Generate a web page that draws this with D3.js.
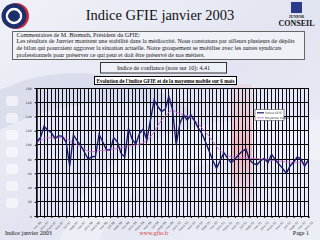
<!DOCTYPE html>
<html><head><meta charset="utf-8">
<script src="https://cdn.jsdelivr.net/npm/d3@7"></script>
<style>html,body{margin:0;padding:0;background:#fff;}svg{display:block;}</style>
</head><body>
<svg id="c" width="320" height="240"></svg>
<script>
const monthNames = ["janv","févr","mars","avr","mai","juin","juil","août","sept","oct","nov","déc"];
const startMonth = 10, startYear = 1996; // nov-96
const indiceGFIE = [104,110,126,121,117,109,113,112,104,70,114,106,99,90,80,83,84,115,104,93,
  93,110,104,88,83,123,108,101,116,122,107,135,163,154,147,150,168,150,100,130,
  142,135,142,134,124,116,104,91,78,67,78,89,81,75,80,86,91,94,79,74,
  72,78,81,75,87,79,73,67,60,70,76,83,80,70,79];
const moyenneMobile = [104,106,109,110,110,110,111,110,109,106,104,100,97,94,91,90,91,92,92,92,
  93,94,95,96,97,98,99,100,101,103,106,111,118,127,135,140,146,149,146,144,
  143,141,138,134,130,124,118,112,105,98,92,88,85,83,82,82,82,82,81,81,
  81,80,79,79,78,78,77,77,76,76,75,75,75,74,74];
const categories = indiceGFIE.map((d,i)=>{const m=(startMonth+i)%12, y=startYear+Math.floor((startMonth+i)/12);return monthNames[m]+"-"+String(y).slice(2);});
const yTicks = [0,20,40,60,80,100,120,140,160,180];
const commentLines = [
 "Commentaires de M. Bismuth, Président du GFIE:",
 "Les résultats de Janvier montrent une stabilité dans la médiocrité. Nous constatons par ailleurs plusieurs de dépôts",
 "de bilan qui pourraient aggraver la situation actuelle. Notre groupement   se mobilise avec les autres syndicats",
 "professionnels pour préserver ce qui peut et doit être préservé de nos métiers."];

const svg = d3.select("#c");
const serif = "'Liberation Serif','DejaVu Serif',serif";
// background
const defs = svg.append("defs");
const bg = defs.append("linearGradient").attr("id","bg").attr("x1",0).attr("y1",0).attr("x2",1).attr("y2",1);
bg.append("stop").attr("offset","0").attr("stop-color","#f0f1f8");
bg.append("stop").attr("offset","0.5").attr("stop-color","#e2e5f1");
bg.append("stop").attr("offset","1").attr("stop-color","#eceef6");
svg.append("rect").attr("width",320).attr("height",240).attr("fill","url(#bg)");
const band = defs.append("linearGradient").attr("id","band").attr("x1",0).attr("y1",0).attr("x2",0).attr("y2",1);
band.append("stop").attr("offset","0").attr("stop-color","#f2b0b0").attr("stop-opacity",0.2);
band.append("stop").attr("offset","0.5").attr("stop-color","#f2a8a8").attr("stop-opacity",0.8);
band.append("stop").attr("offset","1").attr("stop-color","#f2b0b0").attr("stop-opacity",0.1);
// decorative shapes
svg.append("path").attr("d","M60,240 C90,150 180,110 320,120 L320,160 C200,150 120,180 100,240 Z").attr("fill","#ffffff").attr("opacity",0.35);
svg.append("path").attr("d","M0,90 C60,60 150,70 200,120 C150,95 70,95 0,130 Z").attr("fill","#c8cce2").attr("opacity",0.45);
for(let k=0;k<7;k++) svg.append("rect").attr("x",6).attr("y",96+k*17).attr("width",12).attr("height",10).attr("rx",3).attr("fill","#ffffff").attr("opacity",0.55);
svg.append("rect").attr("x",232).attr("y",84).attr("width",20).attr("height",130).attr("fill","url(#band)");

// logo left
const lg = svg.append("g");
lg.append("circle").attr("cx",16).attr("cy",16).attr("r",13).attr("fill","#c8283a");
lg.append("circle").attr("cx",14).attr("cy",16).attr("r",12.5).attr("fill","#1e2f6e");
lg.append("circle").attr("cx",14).attr("cy",16).attr("r",7).attr("fill","none").attr("stroke","#fff").attr("stroke-width",2.5);
lg.append("text").attr("x",14).attr("y",18).attr("text-anchor","middle").attr("font-family","DejaVu Sans").attr("font-weight","bold").attr("font-size",5).attr("fill","#1e2f6e").text("GFIE");

// title
svg.append("text").attr("x",160).attr("y",20).attr("text-anchor","middle").attr("font-family",serif).attr("font-size",14.5).attr("fill","#111").text("Indice GFIE janvier 2003");

// junior conseil
svg.append("rect").attr("x",291).attr("y",2).attr("width",11).attr("height",11).attr("fill","#2a3a8a");
svg.append("text").attr("x",296.5).attr("y",17.5).attr("text-anchor","middle").attr("font-family",serif).attr("font-weight","bold").attr("font-size",4).attr("fill","#111").text("JUNIOR");
svg.append("text").attr("x",296.5).attr("y",26).attr("text-anchor","middle").attr("font-family",serif).attr("font-weight","bold").attr("font-size",8).attr("fill","#111").text("CONSEIL");

// comment box
svg.append("rect").attr("x",12.5).attr("y",31.5).attr("width",292).attr("height",28).attr("fill","#f4f5fa").attr("fill-opacity",0.7).attr("stroke","#666").attr("stroke-width",1);
commentLines.forEach((t,i)=>svg.append("text").attr("x",16.5).attr("y",36.5+i*6.7).attr("font-family",serif).attr("font-size",6.1).attr("fill","#111").text(t));

// indice de confiance
svg.append("rect").attr("x",100.5).attr("y",62.5).attr("width",126).attr("height",10.5).attr("fill","#eef0f8").attr("stroke","#333").attr("stroke-width",1);
svg.append("text").attr("x",163.5).attr("y",70).attr("text-anchor","middle").attr("font-family",serif).attr("font-size",6).attr("fill","#111").text("Indice de confiance (note sur 10): 4,41");

// chart title
svg.append("rect").attr("x",94.5).attr("y",76.5).attr("width",142).attr("height",8).attr("fill","#fff").attr("stroke","#000").attr("stroke-width",1);
svg.append("text").attr("x",165.5).attr("y",82.6).attr("text-anchor","middle").attr("font-family",serif).attr("font-weight","bold").attr("font-size",5.2).attr("fill","#000").text("Evolution de l'indice GFIE et de la moyenne mobile sur 6 mois");

// scales
const x = d3.scalePoint().domain(d3.range(indiceGFIE.length)).range([36.7,308.3]);
const y = d3.scaleLinear().domain([0,180]).range([216,88]);
const plot = svg.append("g").attr("shape-rendering","crispEdges");
// vertical grid
plot.selectAll("line.v").data(x.domain()).join("line").attr("class","v")
  .attr("x1",d=>x(d)).attr("x2",d=>x(d)).attr("y1",y(180)).attr("y2",y(0)).attr("stroke","#0a0a20").attr("stroke-width",1);
plot.selectAll("line.h").data(yTicks).join("line").attr("class","h")
  .attr("x1",x(0)).attr("x2",x(indiceGFIE.length-1)).attr("y1",d=>y(d)).attr("y2",d=>y(d)).attr("stroke","#000").attr("stroke-width",1);

// axes
const yAxis = svg.append("g").attr("transform","translate(36.7,0)").call(d3.axisLeft(y).tickValues(yTicks).tickSize(2));
yAxis.select(".domain").attr("stroke","#000");
yAxis.selectAll("text").attr("font-family","DejaVu Sans").attr("font-size",3.2).attr("fill","#333");
const xAxis = svg.append("g").attr("transform","translate(0,216)").call(d3.axisBottom(x).tickValues(x.domain().filter(i=>i%2===0)).tickFormat(i=>categories[i]).tickSize(2));
xAxis.select(".domain").attr("stroke","#000");
xAxis.selectAll("text").attr("font-family","DejaVu Sans").attr("font-size",3).attr("fill","#444")
  .attr("text-anchor","end").attr("dx",0).attr("dy",0).attr("transform","translate(1,3) rotate(-45)");

// lines
const line = d3.line().x((d,i)=>x(i)).y(d=>y(d));
svg.append("path").datum(moyenneMobile).attr("d",line).attr("fill","none").attr("stroke","#d070d0").attr("stroke-width",0.9);
svg.append("path").datum(indiceGFIE).attr("d",line).attr("fill","none").attr("stroke","#1a1a70").attr("stroke-width",1.4);

// legend
const leg = svg.append("g");
leg.append("rect").attr("x",255).attr("y",109.5).attr("width",29).attr("height",11).attr("fill","#fff").attr("stroke","#333").attr("stroke-width",0.5);
leg.append("line").attr("x1",257).attr("x2",264).attr("y1",112.8).attr("y2",112.8).attr("stroke","#1a1a70").attr("stroke-width",1.2);
leg.append("line").attr("x1",257).attr("x2",264).attr("y1",117.8).attr("y2",117.8).attr("stroke","#d070d0").attr("stroke-width",0.9);
leg.append("text").attr("x",265).attr("y",114).attr("font-family","DejaVu Sans").attr("font-size",3).attr("fill","#333").text("Indice GFIE");
leg.append("text").attr("x",265).attr("y",119).attr("font-family","DejaVu Sans").attr("font-size",3).attr("fill","#333").text("Moyenne mobile");

// footer
svg.append("text").attr("x",5).attr("y",234.5).attr("font-family",serif).attr("font-size",6).attr("fill","#111").text("Indice janvier 2003");
svg.append("text").attr("x",154).attr("y",234.5).attr("text-anchor","middle").attr("font-family",serif).attr("font-size",6).attr("fill","#d04040").text("www.gfie.fr");
svg.append("text").attr("x",309).attr("y",234.5).attr("text-anchor","end").attr("font-family",serif).attr("font-size",6).attr("fill","#111").text("Page 1");
</script>
</body></html>
